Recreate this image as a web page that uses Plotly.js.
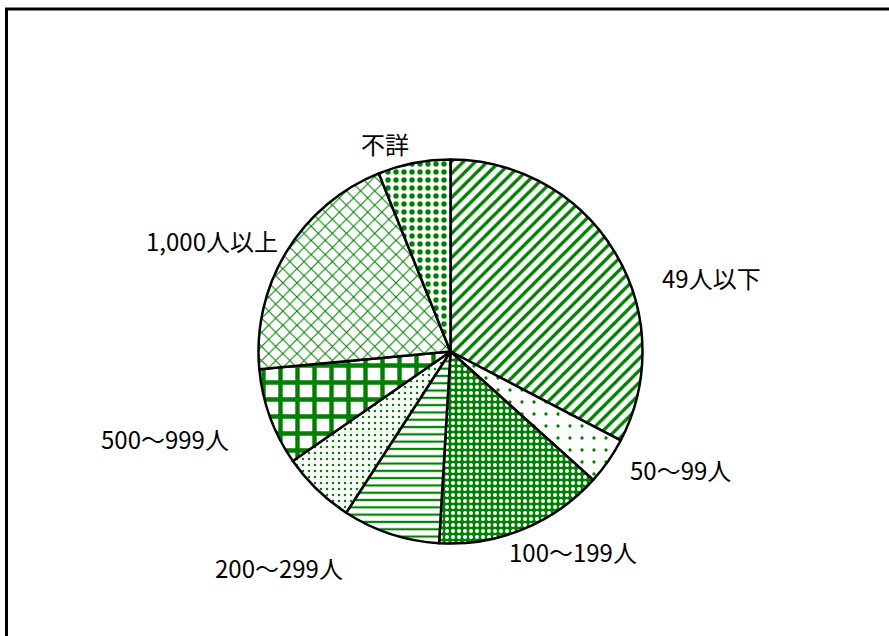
<!DOCTYPE html>
<html>
<head>
<meta charset="utf-8">
<script src="https://cdn.plot.ly/plotly-3.0.1.min.js"></script>
<style>html,body{margin:0;padding:0;background:#fff;}#chart{width:889px;height:636px;}</style>
</head>
<body>
<div id="chart"></div>
<script>
// Data (share, %), clockwise from 12 o'clock
const categories = ["49人以下", "50～99人", "100～199人", "200～299人", "300～499人", "500～999人", "1,000人以上", "不詳"];
const values = [32.7, 4.0, 14.3, 8.2, 6.2, 8.2, 20.4, 6.1];
// Which labels are drawn in the reference (300～499人 is not labelled)
const showLabel = [true, true, true, true, false, true, true, true];

// Layout / style (not data)
const W = 889, H = 636;
const GREEN = "#008000";
const labelPosPx = [[711, 277], [680, 470], [573, 551], [279, 567], null, [165, 438], [212, 240], [385, 144]];
const patShape = ["/", ".", ".", "-", ".", "+", "x", "."];
const patSize = [8.5, 12, 6, 7.3, 6, 17, 10, 8];
const patSolid = [0.4, 0.06, 0.35, 0.3, 0.14, 0.45, 0.2, 0.35];
const patFg = [GREEN, GREEN, "#ffffff", GREEN, GREEN, GREEN, GREEN, GREEN];
const patBg = ["#ffffff", "#ffffff", GREEN, "#ffffff", "#ffffff", "#ffffff", "#ffffff", "#ffffff"];

const cx = 450.5, cy = 351.5, R = 192;

const trace = {
  type: "pie",
  labels: categories,
  values: values,
  sort: false,
  direction: "clockwise",
  rotation: 0,
  textinfo: "none",
  hoverinfo: "label+percent",
  showlegend: false,
  domain: {
    x: [(cx - R) / W, (cx + R) / W],
    y: [(H - cy - R) / H, (H - cy + R) / H]
  },
  marker: {
    colors: categories.map(() => GREEN),
    line: {color: "#000000", width: 2.5},
    pattern: {
      shape: patShape,
      size: patSize,
      solidity: patSolid,
      fgcolor: patFg,
      bgcolor: patBg,
      fillmode: "replace"
    }
  }
};

const annotations = [];
categories.forEach((c, i) => {
  if (!showLabel[i] || !labelPosPx[i]) return;
  annotations.push({
    text: c,
    x: labelPosPx[i][0] / W,
    y: 1 - labelPosPx[i][1] / H,
    xref: "paper", yref: "paper",
    xanchor: "center", yanchor: "middle",
    showarrow: false,
    font: {family: "'Noto Sans CJK JP', 'Noto Sans', sans-serif", size: 24, color: "#000000"}
  });
});

const layout = {
  width: W, height: H,
  margin: {l: 0, r: 0, t: 0, b: 0},
  paper_bgcolor: "#ffffff",
  plot_bgcolor: "#ffffff",
  annotations: annotations,
  shapes: [{
    type: "path",
    xref: "paper", yref: "paper",
    path: "M " + (6.5 / W) + " 0 L " + (6.5 / W) + " " + (1 - 9 / H) + " L 1 " + (1 - 9 / H),
    line: {color: "#000000", width: 3}
  }]
};

Plotly.newPlot("chart", [trace], layout, {displayModeBar: false, staticPlot: true});
</script>
</body>
</html>
